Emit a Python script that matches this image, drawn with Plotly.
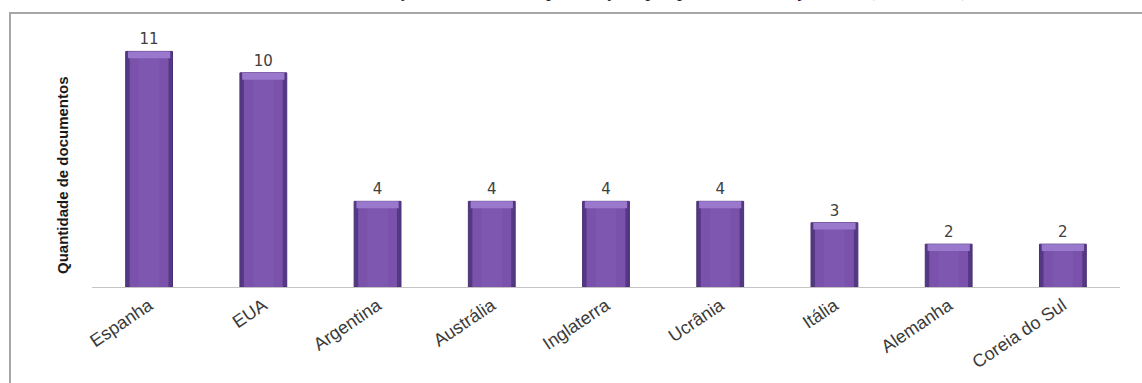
import plotly.graph_objects as go

paises = ["Espanha", "EUA", "Argentina", "Austrália", "Inglaterra", "Ucrânia", "Itália", "Alemanha", "Coreia do Sul"]
documentos = [11, 10, 4, 4, 4, 4, 3, 2, 2]
titulo = "Gráfico 1 – Distribuição do número de publicações por país na base PsycINFO (1987-2015)."
titulo_eixo_y = "Quantidade de documentos"

W, H = 1142, 383
L, R, T, B = 92, 22, 30, 96
pw, ph = W - L - R, H - T - B

def px(x):
    return (x - L) / pw

def py(y):
    return (H - B - y) / ph

bevel = 0.32
fig = go.Figure()
# outer darker edge of each bar
fig.add_trace(go.Bar(
    x=paises, y=documentos, width=0.41,
    marker=dict(color="#553884", line=dict(color="#4a3075", width=1)),
    text=[str(v) for v in documentos], textposition="outside",
    textfont=dict(family="DejaVu Sans", size=15, color="#404040"),
    cliponaxis=False, hoverinfo="skip",
))
# inner lighter body
fig.add_trace(go.Bar(
    x=paises, y=documentos, width=0.34,
    marker=dict(color="#7a52ab", line=dict(width=0)),
    hoverinfo="skip",
))
# centre sheen
fig.add_trace(go.Bar(
    x=paises, y=documentos, width=0.18,
    marker=dict(color="#7e57b0", line=dict(width=0)),
    hoverinfo="skip",
))
# top bevel highlight
fig.add_trace(go.Bar(
    x=paises, y=[bevel] * len(documentos), base=[v - bevel for v in documentos], width=0.37,
    marker=dict(color="#9a78cc", line=dict(width=0)),
    hoverinfo="skip",
))

fig.update_layout(
    width=W, height=H,
    margin=dict(l=L, r=R, t=T, b=B),
    barmode="overlay",
    showlegend=False,
    paper_bgcolor="white", plot_bgcolor="white",
    xaxis=dict(
        range=[-0.5, 8.5], showline=True, linecolor="#c4c4c4", linewidth=1,
        showgrid=False, ticks="", tickangle=-34,
        tickfont=dict(family="Liberation Sans", size=18, color="#3a3a3a"),
    ),
    yaxis=dict(range=[0, 12], showline=False, showgrid=False, zeroline=False,
               showticklabels=False, ticks=""),
    shapes=[dict(type="rect", xref="paper", yref="paper",
                 x0=px(10), x1=px(1160), y0=py(400), y1=py(13),
                 line=dict(color="#a6a6a6", width=2), fillcolor="rgba(0,0,0,0)", layer="below")],
    annotations=[
        dict(text=titulo, xref="paper", yref="paper", x=px(602), y=py(3),
             xanchor="center", yanchor="bottom", showarrow=False,
             font=dict(family="Liberation Serif", size=20, color="#222222")),
        dict(text="<b>" + titulo_eixo_y + "</b>", xref="paper", yref="paper", x=px(62), y=py(175),
             xanchor="center", yanchor="middle", textangle=-90, showarrow=False,
             font=dict(family="Liberation Sans Narrow, Liberation Sans", size=15, color="#1a1a1a")),
    ],
)

fig.write_html("out.html")
